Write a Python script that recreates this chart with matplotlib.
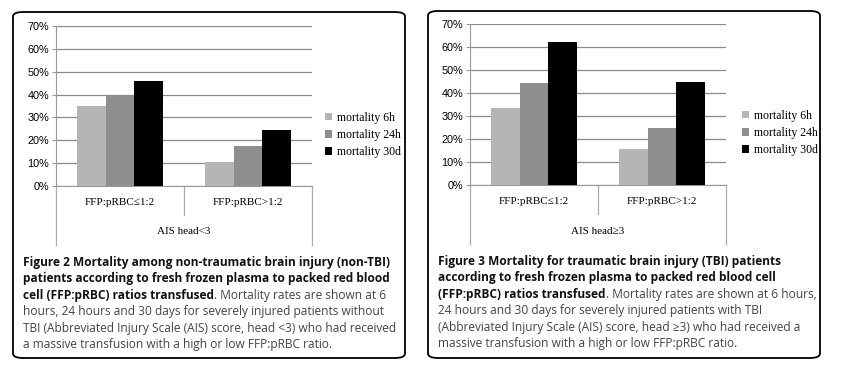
import matplotlib.pyplot as plt
import numpy as np
from matplotlib.patches import FancyBboxPatch

# data
groups = ["FFP:pRBC\u22641:2", "FFP:pRBC>1:2"]
series = ["mortality 6h", "mortality 24h", "mortality 30d"]
colors = ["#b5b5b5", "#8e8e8e", "#000000"]

non_tbi_6h = [35, 10.6]
non_tbi_24h = [40, 17.5]
non_tbi_30d = [45.8, 24.7]

tbi_6h = [33.4, 15.8]
tbi_24h = [44.5, 24.9]
tbi_30d = [62.3, 44.9]

yticks = [0, 10, 20, 30, 40, 50, 60, 70]

cap2_lines = [
    [("Figure 2 Mortality among non-traumatic brain injury (non-TBI)", True)],
    [("patients according to fresh frozen plasma to packed red blood", True)],
    [("cell (FFP:pRBC) ratios transfused", True), (". Mortality rates are shown at 6", False)],
    [("hours, 24 hours and 30 days for severely injured patients without", False)],
    [("TBI (Abbreviated Injury Scale (AIS) score, head <3) who had received", False)],
    [("a massive transfusion with a high or low FFP:pRBC ratio.", False)],
]
cap3_lines = [
    [("Figure 3 Mortality for traumatic brain injury (TBI) patients", True)],
    [("according to fresh frozen plasma to packed red blood cell", True)],
    [("(FFP:pRBC) ratios transfused", True), (". Mortality rates are shown at 6 hours,", False)],
    [("24 hours and 30 days for severely injured patients with TBI", False)],
    [("(Abbreviated Injury Scale (AIS) score, head \u22653) who had received a", False)],
    [("massive transfusion with a high or low FFP:pRBC ratio.", False)],
]

W, H = 843, 372
fig = plt.figure(figsize=(W / 100, H / 100), dpi=100)
fig.patch.set_facecolor("white")


def fx(x):
    return x / W


def fy(y):
    return 1 - y / H


def panel(box, ax_px, vals, sub_label, legend_xy, cap_lines, cap_x, cap_y0):
    # rounded frame
    bx0, by0, bx1, by1 = box
    fig.patches.append(FancyBboxPatch((fx(bx0), fy(by1)), fx(bx1 - bx0), (by1 - by0) / H,
                                      boxstyle="round,pad=0,rounding_size=0.012",
                                      transform=fig.transFigure, fill=False,
                                      edgecolor="black", linewidth=1.3, zorder=0))
    x0, y0, x1, y1 = ax_px
    ax = fig.add_axes([fx(x0), fy(y1), fx(x1 - x0), (y1 - y0) / H])
    x = np.arange(len(groups))
    w = 0.223
    for i, (v, c, s) in enumerate(zip(vals, colors, series)):
        ax.bar(x + (i - 1) * w, v, width=w, color=c, label=s, zorder=3)
    ax.set_xlim(-0.5, 1.5)
    ax.set_ylim(0, 70)
    ax.set_yticks(yticks)
    ax.set_yticklabels([f"{t}%" for t in yticks], fontsize=7.8, family="Liberation Sans")
    ax.tick_params(axis="y", length=3, color="#999999", pad=2)
    ax.set_xticks(x)
    ax.set_xticklabels(groups, fontsize=8, family="Liberation Serif")
    ax.tick_params(axis="x", length=0, pad=8.5)
    ax.grid(axis="y", color="#8a8a8a", linewidth=0.9, zorder=0)
    for sp in ["top", "right"]:
        ax.spines[sp].set_visible(False)
    for sp in ["left", "bottom"]:
        ax.spines[sp].set_color("#999999")
    h = y1 - y0
    tr = ax.transAxes
    ax.plot([0, 0], [0, -59 / h], color="#aaaaaa", lw=0.9, transform=tr, clip_on=False)
    ax.plot([1, 1], [0, -59 / h], color="#aaaaaa", lw=0.9, transform=tr, clip_on=False)
    ax.plot([0.5, 0.5], [0, -29 / h], color="#aaaaaa", lw=0.9, transform=tr, clip_on=False)
    ax.text(0.5, -46 / h, sub_label, transform=tr, ha="center", va="center",
            fontsize=8, family="Liberation Serif")
    ax.legend(loc="center left", bbox_to_anchor=(fx(legend_xy[0]), fy(legend_xy[1])),
              bbox_transform=fig.transFigure, frameon=False,
              prop={"family": "Liberation Serif", "size": 8.5},
              handlelength=0.6, handleheight=0.6, handletextpad=0.4, labelspacing=0.45,
              borderpad=0, borderaxespad=0)

    # caption
    r = fig.canvas.get_renderer()
    for k, parts in enumerate(cap_lines):
        xx = cap_x
        yy = cap_y0 + k * 16.4
        for txt, bold in parts:
            t = fig.text(fx(xx), fy(yy), txt, fontsize=8.6, family="Open Sans",
                         fontweight="bold" if bold else "normal",
                         color="#111111" if bold else "#444444", va="baseline")
            bb = t.get_window_extent(renderer=r)
            xx += bb.width
    return ax


panel((13, 12, 405, 358), (56, 26, 312, 186),
      [non_tbi_6h, non_tbi_24h, non_tbi_30d], "AIS head<3", (325, 135),
      cap2_lines, 23, 266)
panel((428, 11, 820, 358), (470, 24, 726, 185),
      [tbi_6h, tbi_24h, tbi_30d], "AIS head\u22653", (742, 133),
      cap3_lines, 438, 265)

fig.savefig("out.png", dpi=100)
